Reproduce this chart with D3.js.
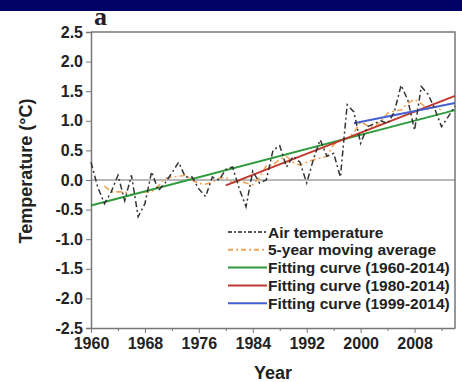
<!DOCTYPE html>
<html>
<head>
<meta charset="utf-8">
<script src="https://cdn.jsdelivr.net/npm/d3@7"></script>
<style>
  body { margin: 0; background: #fff; }
  svg text { font-family: "Liberation Sans", Arial, sans-serif; font-weight: bold; fill: #222; }
</style>
</head>
<body>
<svg id="chart" width="462" height="382"></svg>
<script>
// annual air temperature anomaly, 1960-2014
const years = d3.range(1960, 2015);
const airTemp = [
  0.30, -0.12, -0.40, -0.20, 0.08, -0.35, 0.08, -0.62, -0.40, 0.14,
  -0.18, -0.05, 0.12, 0.30, 0.05, 0.05, -0.15, -0.28, 0.05, 0.00,
  0.18, 0.22, -0.15, -0.45, 0.15, -0.05, 0.00, 0.50, 0.58, 0.22,
  0.40, 0.30, -0.05, 0.35, 0.68, 0.40, 0.45, 0.05, 1.27, 1.15,
  0.62, 0.90, 0.95, 1.00, 0.95, 1.15, 1.60, 1.35, 0.84, 1.58,
  1.45, 1.20, 0.90, 1.07, 1.25
];
// 5-year moving average, 1962-2012
const maYears = d3.range(1962, 2013);
const movingAvg = [
  -0.10, -0.20, -0.20, -0.20, -0.25, -0.22, -0.20, -0.20, -0.10, 0.03,
  0.05, 0.06, 0.08, 0.00, -0.06, -0.07, -0.04, 0.03, 0.05, -0.05,
  -0.02, -0.05, -0.08, 0.04, 0.24, 0.25, 0.35, 0.40, 0.30, 0.25,
  0.30, 0.34, 0.37, 0.40, 0.60, 0.67, 0.70, 0.80, 0.98, 0.92,
  0.88, 0.99, 1.13, 1.17, 1.18, 1.30, 1.36, 1.29, 1.19, 1.24,
  1.18
];
// fitted lines: [start year, end year], [start value, end value]
const fits = [
  {name: "Fitting curve (1960-2014)", years: [1960, 2014], values: [-0.43, 1.18], color: "#2f9a3c"},
  {name: "Fitting curve (1980-2014)", years: [1980, 2014], values: [-0.09, 1.42], color: "#c0392e"},
  {name: "Fitting curve (1999-2014)", years: [1999, 2014], values: [0.96, 1.30], color: "#4560d0"}
];
const yTicks = [-2.5, -2.0, -1.5, -1.0, -0.5, 0.0, 0.5, 1.0, 1.5, 2.0, 2.5];
const xTicks = [1960, 1968, 1976, 1984, 1992, 2000, 2008];

const margin = {top: 32, right: 7, bottom: 54, left: 91};
const width = 462, height = 382;
const svg = d3.select("#chart");

const x = d3.scaleLinear().domain([1960, 2014]).range([margin.left, width - margin.right]);
const y = d3.scaleLinear().domain([-2.5, 2.5]).range([height - margin.bottom, margin.top]);

// zero line
svg.append("line")
  .attr("x1", x(1960)).attr("x2", x(2014))
  .attr("y1", y(0)).attr("y2", y(0))
  .attr("stroke", "#a0a0a0").attr("stroke-width", 1.5);

// box (top and right)
svg.append("path")
  .attr("d", `M${x(1960)},${y(2.5)}H${x(2014)}V${y(-2.5)}`)
  .attr("fill", "none").attr("stroke", "#777").attr("stroke-width", 1.5);

// axes
const yAxis = d3.axisLeft(y).tickValues(yTicks)
  .tickFormat(d => d.toFixed(1))
  .tickSize(5).tickPadding(3);
svg.append("g")
  .attr("transform", `translate(${margin.left},0)`)
  .call(yAxis)
  .call(g => g.select(".domain").attr("stroke", "#777").attr("stroke-width", 1.5))
  .call(g => g.selectAll(".tick line").attr("stroke", "#777"))
  .call(g => g.selectAll(".tick text").style("font-size", "16px").attr("fill", "#222"));

const xMinor = d3.axisBottom(x).tickValues(d3.range(1964, 2014, 8)).tickSize(3).tickFormat("");
svg.append("g")
  .attr("transform", `translate(0,${height - margin.bottom})`)
  .call(xMinor)
  .call(g => g.select(".domain").remove())
  .call(g => g.selectAll(".tick line").attr("stroke", "#777"));

const xAxis = d3.axisBottom(x).tickValues(xTicks).tickFormat(d3.format("d")).tickSize(5).tickPadding(5).tickSizeOuter(0);
svg.append("g")
  .attr("transform", `translate(0,${height - margin.bottom})`)
  .call(xAxis)
  .call(g => g.select(".domain").attr("stroke", "#777").attr("stroke-width", 1.5))
  .call(g => g.selectAll(".tick line").attr("stroke", "#777"))
  .call(g => g.selectAll(".tick text").style("font-size", "16px").attr("fill", "#222"));

// axis titles
svg.append("text")
  .attr("x", (margin.left + width - margin.right) / 2)
  .attr("y", 379)
  .attr("text-anchor", "middle")
  .style("font-size", "18px")
  .text("Year");

svg.append("text")
  .attr("transform", `translate(32,171) rotate(-90)`)
  .attr("text-anchor", "middle")
  .style("font-size", "18px")
  .text("Temperature (\u00B0C)");

// series
const line = d3.line().x(d => x(d[0])).y(d => y(d[1]));

svg.append("path")
  .datum(maYears.map((yr, i) => [yr, movingAvg[i]]))
  .attr("d", line)
  .attr("fill", "none").attr("stroke", "#f2a458").attr("stroke-width", 1.6)
  .attr("stroke-dasharray", "6,3,2,3");

fits.forEach(f => {
  svg.append("path")
    .datum(f.years.map((yr, i) => [yr, f.values[i]]))
    .attr("d", line)
    .attr("fill", "none").attr("stroke", f.color).attr("stroke-width", 2);
});

svg.append("path")
  .datum(years.map((yr, i) => [yr, airTemp[i]]))
  .attr("d", line)
  .attr("fill", "none").attr("stroke", "#333").attr("stroke-width", 1.5)
  .attr("stroke-dasharray", "6,3,2,3");

// legend
const legendItems = [
  {name: "Air temperature", color: "#555", dash: "4,2,2,2"},
  {name: "5-year moving average", color: "#f2a458", dash: "5,3,2,3"},
  ...fits.map(f => ({name: f.name, color: f.color, dash: null}))
];
const legend = svg.append("g").attr("transform", "translate(228,232)");
legendItems.forEach((d, i) => {
  const row = legend.append("g").attr("transform", `translate(0,${i * 17.8})`);
  row.append("line")
    .attr("x1", 0).attr("x2", 39).attr("y1", 0).attr("y2", 0)
    .attr("stroke", d.color).attr("stroke-width", 2)
    .attr("stroke-dasharray", d.dash);
  row.append("text")
    .attr("x", 40).attr("y", 5.5)
    .style("font-size", "15.5px")
    .text(d.name);
});

// panel letter
svg.append("text")
  .attr("x", 94).attr("y", 25)
  .style("font-family", "'Liberation Serif', 'Times New Roman', serif")
  .style("font-size", "26px")
  .text("a");

// top banner
svg.append("rect")
  .attr("x", 0).attr("y", 0).attr("width", width).attr("height", 11)
  .attr("fill", "#000066");
</script>
</body>
</html>
